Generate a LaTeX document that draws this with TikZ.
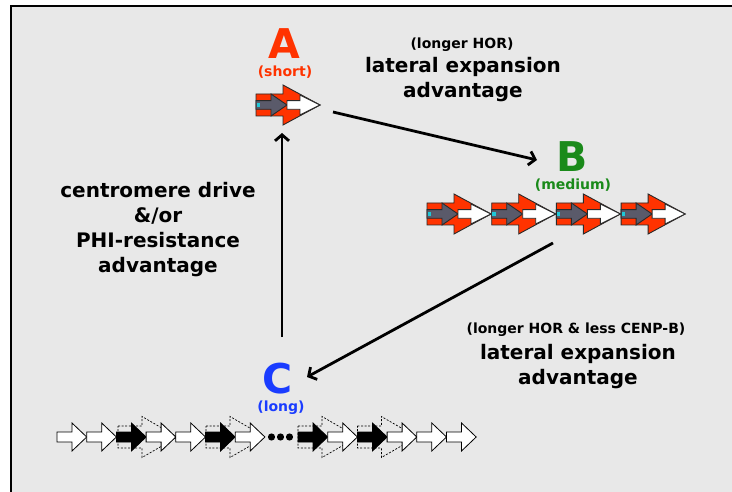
\documentclass[tikz,border=0pt]{standalone}
\usepackage{fontspec}
\setmainfont{DejaVu Sans}
\usetikzlibrary{arrows.meta}
\definecolor{panel}{HTML}{E8E8E8}
\definecolor{hred}{HTML}{FF3300}
\definecolor{hgray}{HTML}{5A5A6A}
\definecolor{hcyan}{HTML}{1FC8D8}
\definecolor{bgreen}{HTML}{1A8A1A}
\definecolor{cblue}{HTML}{1A3CFF}
\definecolor{edge}{HTML}{2A2A2A}
\tikzset{
  unitline/.style={draw=edge, line width=0.9pt, line join=miter},
  conn/.style={line width=2.8pt, -{Straight Barb[length=6pt,width=14pt]}},
  bigletter/.style={font=\fontsize{41}{41}\selectfont\bfseries, inner sep=0pt, text height=30pt, text depth=0pt},
  sizetag/.style={font=\fontsize{14}{14}\selectfont\bfseries, inner sep=0pt, text height=10pt, text depth=2.5pt},
  note/.style={font=\fontsize{14}{15}\selectfont\bfseries, inner sep=0pt},
  claim/.style={font=\fontsize{20}{25}\selectfont\bfseries, align=center, inner sep=0pt},
  % one higher-order repeat unit: red block arrow holding a grey and a white monomer
  hor/.pic={
    \path[unitline, fill=hred] (0,-11) -- (27,-11) -- (27,-20) -- (64,0) -- (27,20) -- (27,11) -- (0,11) -- cycle;
    \path[unitline, fill=hgray] (0,-4.3) -- (15,-4.3) -- (15,-11) -- (31,0) -- (15,11) -- (15,4.3) -- (0,4.3) -- cycle;
    \path[unitline, fill=white] (31,-4.3) -- (44,-4.3) -- (44,-10) -- (64,0) -- (44,10) -- (44,4.3) -- (31,4.3) -- cycle;
    \path[fill=hcyan] (0.6,-2.3) rectangle (4,2.3);
  },
  % a single monomer of the long array
  mono/.pic={
    \path[draw=black, line width=0.8pt, fill=#1] (0,-5) -- (15,-5) -- (15,-14) -- (29.7,0) -- (15,14) -- (15,5) -- (0,5) -- cycle;
  },
  % dashed outline of a former two-monomer repeat
  ghost/.pic={
    \draw[black, line width=0.7pt, dash pattern=on 2pt off 1.6pt] (0,-11) -- (24,-11) -- (24,-20.5) -- (59.4,0) -- (24,20.5) -- (24,11) -- (0,11) -- cycle;
  },
}
\begin{document}
\begin{tikzpicture}[x=1pt,y=-1pt]
\useasboundingbox (0,0) rectangle (732,492);
\fill[white] (0,0) rectangle (732,492);
\fill[panel] (11,6) rectangle (732,492);
\draw[line width=2pt, line cap=rect] (11,492) -- (11,6) -- (732,6);

% stage A
\node[bigletter, text=hred] (labA) at (284,43.5) {A};
\node[sizetag, text=hred] (tagA) at (285,72.5) {(short)};
\pic at (256,105) {hor};

% stage B
\node[bigletter, text=bgreen] (labB) at (572,156.5) {B};
\node[sizetag, text=bgreen] (tagB) at (573,185.5) {(medium)};
\foreach \i in {0,1,2,3} \pic at (427+64.7*\i,214) {hor};

% stage C
\node[bigletter, text=cblue] (labC) at (278,378.5) {C};
\node[sizetag, text=cblue] (tagC) at (281,407.5) {(long)};
\foreach \x in {118,206,298,357.4} \pic at (\x,437) {ghost};
\foreach \x/\f in {57/white,86.7/white,116.4/black,146.1/white,175.8/white,205.5/black,235.2/white}
  \pic at (\x,437) {mono=\f};
\foreach \x/\f in {298/black,327.7/white,357.4/black,387.1/white,416.8/white,446.5/white}
  \pic at (\x,437) {mono=\f};
\foreach \x in {271.5,280.5,289.5} \fill (\x,437) circle (3.6);

% labels of the transitions
\node[note] (noteAB) at (462,45) {(longer HOR)};
\node[claim] (claimAB) at (463,80) {lateral expansion\\advantage};
\node[claim] (claimCA) at (158,230) {centromere drive\\\&/or\\PHI-resistance\\advantage};
\node[note] (noteBC) at (576,330) {(longer HOR \& less CENP-B)};
\node[claim] (claimBC) at (578,367) {lateral expansion\\advantage};

% cycle connectors
\coordinate (outA) at (333,112);
\coordinate (inB) at (537,160);
\coordinate (outB) at (553,243);
\coordinate (inC) at (307,377);
\coordinate (outC) at (282,337);
\coordinate (inA) at (282,133);
\draw[conn] (outA) -- (inB);
\draw[conn] (outB) -- (inC);
\draw[conn] (outC) -- (inA);
\end{tikzpicture}
\end{document}
